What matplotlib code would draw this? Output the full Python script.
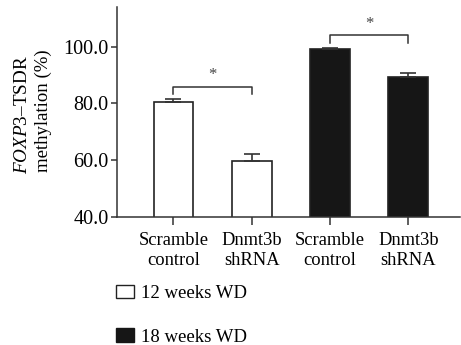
import matplotlib
matplotlib.use("Agg")
import matplotlib.pyplot as plt
from matplotlib.patches import Patch

plt.rcParams['font.family'] = 'Liberation Serif'
plt.rcParams['mathtext.fontset'] = 'custom'
plt.rcParams['mathtext.it'] = 'Liberation Serif:italic'
plt.rcParams['mathtext.rm'] = 'Liberation Serif'

# data
groups = ["Scramble\ncontrol", "Dnmt3b\nshRNA", "Scramble\ncontrol", "Dnmt3b\nshRNA"]
means = [80.5, 59.5, 99.0, 89.4]
sems = [1.1, 2.7, 0.5, 1.2]
fills = ['white', 'white', '#161616', '#161616']
legend_labels = ["12 weeks WD", "18 weeks WD"]
# significance pairs (bar index a, bar index b, bracket height)
sig = [(0, 1, 85.8), (2, 3, 104.1)]

fig = plt.figure(figsize=(4.61, 3.45), dpi=100)
ax = fig.add_axes([0.254, 0.372, 0.744, 0.608])

x = range(len(groups))
ax.bar(x, means, width=0.51, color=fills, edgecolor='#222222', linewidth=1.2,
       yerr=[[0]*4, sems], error_kw=dict(ecolor='#333333', elinewidth=1.2,
                                         capsize=6, capthick=1.2), zorder=2)

for a, b, h in sig:
    ax.plot([a, a, b, b], [h - 2.7, h, h, h - 2.7], color='#333333', lw=1.1)
    ax.text((a + b) / 2, h + 1.2, '*', ha='center', va='bottom', fontsize=12,
            color='#444444')

ax.set_xlim(-0.72, 3.66)
ax.set_ylim(40, 114)
ax.set_yticks([40, 60, 80, 100])
ax.set_yticklabels(['40.0', '60.0', '80.0', '100.0'], fontsize=14.5)
ax.set_xticks(list(x))
ax.set_xticklabels(groups, linespacing=1.2, fontsize=13.3)
ax.tick_params(axis='both', color='#333333', width=1.1)
ax.tick_params(axis='x', length=6, pad=5)
ax.tick_params(axis='y', length=4, pad=2)
for s in ['top', 'right']:
    ax.spines[s].set_visible(False)
for s in ['left', 'bottom']:
    ax.spines[s].set_color('#333333')
    ax.spines[s].set_linewidth(1.1)

fig.text(0.048, 0.667, r'$\mathit{FOXP3}$–TSDR', rotation=90, ha='center',
         va='center', fontsize=13.8)
fig.text(0.093, 0.678, 'methylation (%)', rotation=90, ha='center',
         va='center', fontsize=13.5)

handles = [Patch(facecolor='white', edgecolor='#222222', lw=1.0),
           Patch(facecolor='#161616', edgecolor='#161616', lw=1.0)]
fig.legend(handles, legend_labels, loc='upper left',
           bbox_to_anchor=(0.252, 0.175), frameon=False, fontsize=13.5,
           handlelength=0.95, handleheight=0.75, handletextpad=0.4,
           labelspacing=1.4, borderaxespad=0, borderpad=0)

fig.savefig('out.png', dpi=100)
